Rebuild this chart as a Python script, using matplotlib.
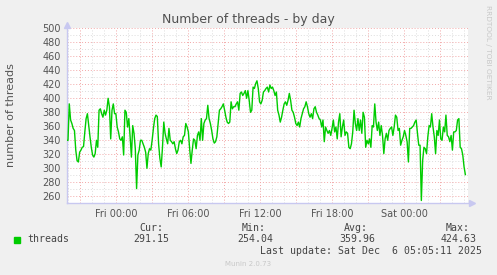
import numpy as np
import matplotlib
matplotlib.use("Agg")
import matplotlib.pyplot as plt
from matplotlib.patches import Rectangle

# hours relative to Fri 00:00
t_start = -4.11
t_end = 29.11
x_range = (-4.11, 29.33)
y_range = (250, 500)

# threads, sampled left to right across the day graph
threads = [
    340, 340, 392, 369, 364, 357, 354, 326, 311, 309, 323, 326, 330, 331, 352,
    371, 378, 361, 345, 330, 319, 316, 321, 340, 330, 383, 385, 378, 373, 383,
    376, 383, 400, 388, 342, 383, 392, 378, 378, 359, 352, 342, 340, 345, 319,
    383, 380, 359, 371, 345, 316, 361, 350, 328, 271,
    319, 326, 340, 340, 335, 330, 323, 300, 321, 328, 326, 340, 357, 371, 376,
    374, 335, 314, 302, 330, 366, 350, 342, 335, 357, 340, 338, 335, 338, 328,
    321, 326, 338, 340, 335, 345, 347, 364, 359, 352, 328, 307, 326, 342, 340,
    328, 347, 352, 340, 371, 340, 364, 369,
    371, 390, 371, 364, 354, 342, 336, 338, 345, 364, 383, 385, 388, 392, 383,
    373, 366, 364, 366, 395, 385, 388, 388, 392, 395, 383, 407, 409, 404, 407,
    411, 400, 411, 397, 380, 383, 416, 414, 421, 425, 414, 395, 392, 397, 409,
    411, 414, 416, 409, 419, 414, 416,
    411, 404, 409, 383, 376, 366, 373, 383, 392, 395, 390, 397, 407, 397, 383,
    380, 373, 364, 361, 366, 359, 371, 378, 385, 388, 395, 388, 378, 373, 378,
    371, 385, 388, 380, 376, 371, 369, 359, 369, 338, 359, 354, 350, 354, 347,
    357, 369, 352, 359, 342, 366, 378,
    345, 359, 369, 347, 352, 350, 330, 328, 335, 352, 383, 364, 354, 371, 354,
    369, 350, 380, 373, 330, 340, 335, 342, 330, 361, 359, 392, 366, 354, 366,
    347, 361, 347, 321, 342, 350, 340, 354, 357, 359, 347, 359, 376, 373, 354,
    357, 333, 340, 345, 354, 347,
    338, 309, 357, 357, 359, 361, 366, 369, 350, 333, 333, 254, 311, 330, 328,
    321, 345, 361, 359, 378, 359, 345, 321, 354, 347, 369, 342, 340, 359, 352,
    376, 347, 345, 338, 347, 326, 352, 352, 354, 369, 371, 330, 328, 319, 302,
    291,
]

tick_hours = [0, 6, 12, 18, 24]
tick_labels = ["Fri 00:00", "Fri 06:00", "Fri 12:00", "Fri 18:00", "Sat 00:00"]
y_ticks = list(range(260, 501, 20))

legend_name = "threads"
stat_names = ["Cur:", "Min:", "Avg:", "Max:"]
stat_values = ["291.15", "254.04", "359.96", "424.63"]
last_update = "Last update: Sat Dec  6 05:05:11 2025"

W, H = 497, 275


def fx(px):
    return px / W


def fy(py):
    return 1 - py / H


def main():
    fig = plt.figure(figsize=(W / 100, H / 100), dpi=100, facecolor="#F0F0F0")
    ax = fig.add_axes([fx(66.7), fy(203.3), (468 - 66.7) / W, (203.3 - 28.3) / H])
    ax.set_facecolor("white")

    t = np.linspace(t_start, t_end, len(threads))

    ax.set_xlim(*x_range)
    ax.set_ylim(*y_range)

    # grid: minor grey, major red, both dotted
    dots = (0, (1, 2))
    for h in np.arange(-4, 30, 1):
        if h % 3 == 0:
            continue
        ax.axvline(h, color="#DCDCDC", lw=0.7, ls=dots, zorder=1)
    for v in range(260, 501, 20):
        ax.axhline(v - 10, color="#DCDCDC", lw=0.7, ls=dots, zorder=1)
    for h in np.arange(-3, 30, 3):
        ax.axvline(h, color="#F2A8A8", lw=0.7, ls=dots, zorder=1)
    for v in y_ticks:
        ax.axhline(v, color="#F2A8A8", lw=0.7, ls=dots, zorder=1)

    ax.plot(t, threads, color="#00CC00", lw=1.0, zorder=3)

    ax.set_xticks(tick_hours)
    ax.set_xticklabels(tick_labels)
    ax.set_yticks(y_ticks)
    ax.tick_params(length=0, labelsize=7, labelcolor="#555555", pad=4)
    ax.tick_params(axis="x", pad=4)

    for s in ["top", "right"]:
        ax.spines[s].set_visible(False)
    for s in ["left", "bottom"]:
        ax.spines[s].set_color("#C8C8F0")
        ax.spines[s].set_linewidth(1.0)

    # axis arrows
    ax.plot([0], [1.02], marker="^", ms=5, color="#C8C8F0", transform=ax.transAxes, clip_on=False)
    ax.plot([1.01], [0], marker=">", ms=5, color="#C8C8F0", transform=ax.transAxes, clip_on=False)

    fig.text(fx(248.5), fy(19), "Number of threads - by day", fontsize=9,
             color="#505050", ha="center", va="center")
    fig.text(fx(11), fy(115), "number of threads", rotation=90, fontsize=8,
             color="#555555", ha="center", va="center")
    fig.text(fx(488), fy(5), "RRDTOOL / TOBI OETIKER", rotation=270, fontsize=5.3,
             color="#C8C8C8", ha="center", va="top")

    # legend block
    mono = "DejaVu Sans Mono"
    fig.patches.append(Rectangle((fx(14), fy(242.5)), 6 / W, 6 / H,
                                 transform=fig.transFigure, color="#00CC00"))
    fig.text(fx(27), fy(239.5), legend_name, family=mono, fontsize=7.1,
             color="#444444", va="center")
    name_right = [163, 266, 368, 470]
    value_right = [169, 273, 375, 477]
    for n, v, nr, vr in zip(stat_names, stat_values, name_right, value_right):
        fig.text(fx(nr), fy(228), n, family=mono, fontsize=7.1, color="#444444",
                 ha="right", va="center")
        fig.text(fx(vr), fy(239.5), v, family=mono, fontsize=7.1, color="#444444",
                 ha="right", va="center")
    fig.text(fx(482), fy(251), last_update, family=mono, fontsize=7.1,
             color="#444444", ha="right", va="center")
    fig.text(fx(248), fy(264), "Munin 2.0.73", fontsize=5, color="#C8C8C8",
             ha="center", va="center")

    fig.savefig("out.png", dpi=100, facecolor=fig.get_facecolor())


if __name__ == "__main__":
    main()
